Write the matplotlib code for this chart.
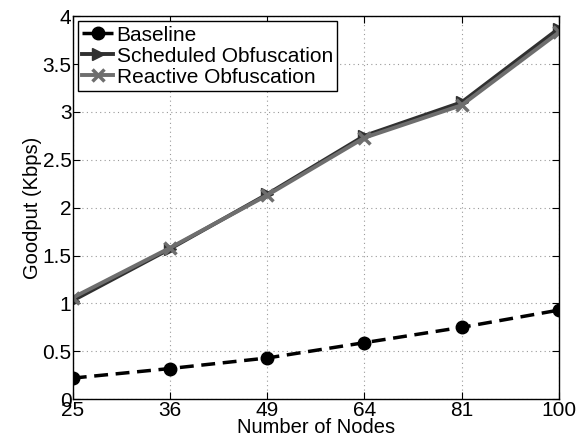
import matplotlib
matplotlib.use('Agg')
import matplotlib.pyplot as plt
import numpy as np

plt.rcParams['font.family'] = ['Liberation Sans', 'DejaVu Sans']

# goodput per network size
nodes = ['25', '36', '49', '64', '81', '100']
baseline = [0.22, 0.32, 0.43, 0.59, 0.75, 0.93]
scheduled = [1.03, 1.57, 2.14, 2.75, 3.10, 3.87]
reactive = [1.06, 1.58, 2.13, 2.73, 3.07, 3.83]

x = np.arange(len(nodes))

fig = plt.figure(figsize=(5.87, 4.48), dpi=100)
ax = fig.add_axes([0.124, 0.109, 0.828, 0.855])

ax.plot(x, baseline, color='black', linestyle='--', linewidth=2.5,
        marker='o', markersize=9, label='Baseline', dashes=(4, 2.2))
ax.plot(x, scheduled, color='#303030', linewidth=2.8,
        marker='>', markersize=9, label='Scheduled Obfuscation')
ax.plot(x, reactive, color='#6e6e6e', linewidth=2.8,
        marker='x', markersize=9, markeredgewidth=2.5, label='Reactive Obfuscation')

ax.set_xlim(0, len(nodes) - 1)
ax.set_ylim(0, 4)
ax.set_xticks(x)
ax.set_xticklabels(nodes)
ax.set_yticks(np.arange(0, 4.01, 0.5))
ax.set_yticklabels(['0', '0.5', '1', '1.5', '2', '2.5', '3', '3.5', '4'])
ax.tick_params(direction='in', labelsize=15, length=5, top=True, right=True, pad=1)
ax.grid(True, linestyle=(0, (1, 3)), color='#999999', linewidth=0.8)
for s in ax.spines.values():
    s.set_linewidth(1.0)

ax.set_xlabel('Number of Nodes', fontsize=14.5, labelpad=-1)
ax.set_ylabel('Goodput (Kbps)', fontsize=14.5, labelpad=0)

leg = ax.legend(loc='upper left', fontsize=15, frameon=True, fancybox=False,
                edgecolor='black', framealpha=1, handlelength=1.5,
                handletextpad=0.15, borderpad=0.2, labelspacing=0.1,
                borderaxespad=0.25)
leg.get_frame().set_linewidth(1.0)

fig.savefig('out.png', dpi=100)
